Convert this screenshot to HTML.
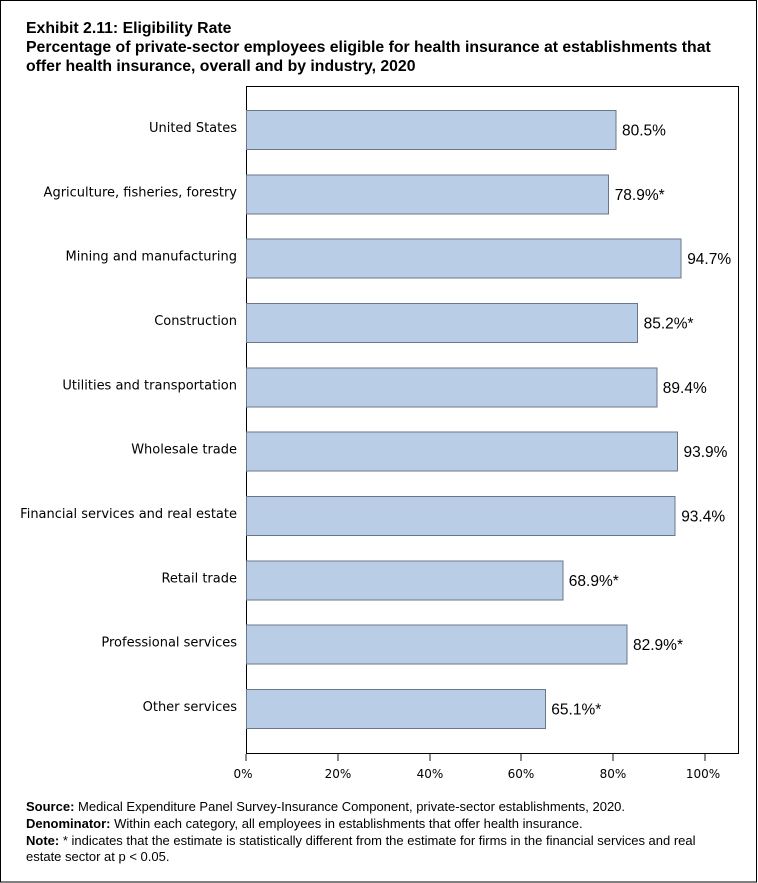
<!DOCTYPE html>
<html>
<head>
<meta charset="utf-8">
<style>
  html, body { margin: 0; padding: 0; background: #fff; }
  #wrap { position: relative; width: 758px; height: 883px; overflow: hidden; background: #fff; }
  svg { position: absolute; left: 0; top: 0; }
</style>
</head>
<body>
<div id="wrap">
<svg width="758" height="883" viewBox="0 0 758 883" xmlns="http://www.w3.org/2000/svg">
  <!-- outer border -->
  <rect x="0.5" y="0.5" width="756" height="881.5" fill="#fff" stroke="#000" stroke-width="1"/>

  <!-- titles -->
  <g font-family="Liberation Sans, Arial, sans-serif" font-weight="bold" font-size="15.8" fill="#000">
    <text x="26" y="33">Exhibit 2.11: Eligibility Rate</text>
    <text x="26" y="52">Percentage of private-sector employees eligible for health insurance at establishments that</text>
    <text x="26" y="71">offer health insurance, overall and by industry, 2020</text>
  </g>

  <!-- plot frame -->
  <rect x="246.5" y="86.5" width="492" height="667" fill="#fff" stroke="#000" stroke-width="1" shape-rendering="crispEdges"/>

  <!-- bars -->
  <g fill="#B9CEE6" stroke="#6A7789" stroke-width="1" shape-rendering="crispEdges">
    <rect x="246.5" y="110.5" width="369.5" height="39"/>
    <rect x="246.5" y="174.8" width="362.2" height="39"/>
    <rect x="246.5" y="239.2" width="434.7" height="39"/>
    <rect x="246.5" y="303.5" width="391.1" height="39"/>
    <rect x="246.5" y="367.8" width="410.3" height="39"/>
    <rect x="246.5" y="432.2" width="431.0" height="39"/>
    <rect x="246.5" y="496.5" width="428.7" height="39"/>
    <rect x="246.5" y="560.8" width="316.3" height="39"/>
    <rect x="246.5" y="625.2" width="380.5" height="39"/>
    <rect x="246.5" y="689.5" width="298.8" height="39"/>
  </g>

  <!-- category labels -->
  <g font-family="DejaVu Sans, Liberation Sans, sans-serif" font-size="13" fill="#000" text-anchor="end">
    <text x="237" y="132">United States</text>
    <text x="237" y="196.3">Agriculture, fisheries, forestry</text>
    <text x="237" y="260.7">Mining and manufacturing</text>
    <text x="237" y="325">Construction</text>
    <text x="237" y="389.3">Utilities and transportation</text>
    <text x="237" y="453.7">Wholesale trade</text>
    <text x="237" y="518">Financial services and real estate</text>
    <text x="237" y="582.3">Retail trade</text>
    <text x="237" y="646.7">Professional services</text>
    <text x="237" y="711">Other services</text>
  </g>

  <!-- value labels -->
  <g font-family="Liberation Sans, Arial, sans-serif" font-size="15.5" fill="#000">
    <text x="622" y="135.5">80.5%</text>
    <text x="614.7" y="199.8">78.9%*</text>
    <text x="687.2" y="264.2">94.7%</text>
    <text x="643.6" y="328.5">85.2%*</text>
    <text x="662.8" y="392.8">89.4%</text>
    <text x="683.5" y="457.2">93.9%</text>
    <text x="681.2" y="521.5">93.4%</text>
    <text x="568.8" y="585.8">68.9%*</text>
    <text x="633" y="650.2">82.9%*</text>
    <text x="551.3" y="714.5">65.1%*</text>
  </g>

  <!-- ticks -->
  <g stroke="#8a8a8a" stroke-width="2" shape-rendering="crispEdges">
    <line x1="246" y1="754" x2="246" y2="761"/>
    <line x1="338" y1="754" x2="338" y2="761"/>
    <line x1="430" y1="754" x2="430" y2="761"/>
    <line x1="521" y1="754" x2="521" y2="761"/>
    <line x1="613" y1="754" x2="613" y2="761"/>
    <line x1="705" y1="754" x2="705" y2="761"/>
  </g>
  <g font-family="DejaVu Sans, Liberation Sans, sans-serif" font-size="12" fill="#000" text-anchor="middle">
    <text x="243" y="778">0%</text>
    <text x="338" y="778">20%</text>
    <text x="430" y="778">40%</text>
    <text x="521" y="778">60%</text>
    <text x="613" y="778">80%</text>
    <text x="703" y="778">100%</text>
  </g>

  <!-- footnotes -->
  <g font-family="Liberation Sans, Arial, sans-serif" font-size="13" fill="#000">
    <text x="26" y="811"><tspan font-weight="bold">Source:</tspan> Medical Expenditure Panel Survey-Insurance Component, private-sector establishments, 2020.</text>
    <text x="26" y="828"><tspan font-weight="bold">Denominator:</tspan> Within each category, all employees in establishments that offer health insurance.</text>
    <text x="26" y="845"><tspan font-weight="bold">Note:</tspan>  * indicates that the estimate is statistically different from the estimate for firms in the financial services and real</text>
    <text x="26" y="861">estate sector at p &lt; 0.05.</text>
  </g>
</svg>
</div>
</body>
</html>
